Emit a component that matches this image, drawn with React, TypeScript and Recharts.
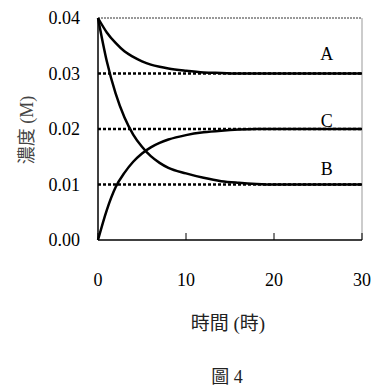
import * as React from "react";
import {
  LineChart,
  Line,
  XAxis,
  YAxis,
  ReferenceLine,
  ReferenceDot,
  Label,
} from "recharts";

// 時間 (時)
const times = [0, 1, 2, 3, 4, 5, 6, 7, 8, 10, 12, 14, 16, 18, 20, 22, 25, 30];
// 濃度 (M)
const seriesA = [0.04, 0.0374, 0.0355, 0.034, 0.033, 0.0322, 0.0316, 0.0312, 0.0309, 0.0305, 0.0302, 0.0301, 0.03, 0.03, 0.03, 0.03, 0.03, 0.03];
const seriesB = [0.04, 0.0322, 0.0264, 0.0221, 0.019, 0.0168, 0.0151, 0.0139, 0.013, 0.012, 0.0112, 0.0106, 0.0103, 0.0101, 0.01, 0.01, 0.01, 0.01];
const seriesC = [0, 0.0054, 0.0095, 0.0121, 0.0141, 0.0156, 0.0167, 0.0175, 0.0181, 0.0189, 0.0194, 0.0197, 0.0199, 0.02, 0.02, 0.02, 0.02, 0.02];

const xTicks = [0, 10, 20, 30];
const yTicks = [0, 0.01, 0.02, 0.03, 0.04];
const guideLevels = [0.01, 0.02, 0.03];

// curve labels: name, x, y
const curveLabels: [string, number, number][] = [
  ["A", 26, 0.0335],
  ["C", 26, 0.0216],
  ["B", 26, 0.0128],
];

const SERIF = '"Liberation Serif", "Times New Roman", serif';
const CJK = '"Liberation Serif", "Noto Sans CJK TC", serif';

const data = times.map((t, i) => ({
  t,
  A: seriesA[i],
  B: seriesB[i],
  C: seriesC[i],
}));

export default function App() {
  return (
    <div
      style={{
        position: "absolute",
        left: 0,
        top: 0,
        width: 381,
        height: 392,
        background: "#fff",
        fontFamily: SERIF,
      }}
    >
      <LineChart
        width={381}
        height={392}
        data={data}
        margin={{ top: 18, right: 19, bottom: 92, left: 0 }}
        style={{ fontFamily: SERIF }}
      >
        <XAxis
          dataKey="t"
          type="number"
          domain={[0, 30]}
          ticks={xTicks}
          interval={0}
          height={60}
          axisLine={{ stroke: "#000", strokeWidth: 1.5 }}
          tickLine={{ stroke: "#000", strokeWidth: 1 }}
          tickSize={-7}
          tickMargin={40}
          tick={{ fill: "#000", fontSize: 18, fontFamily: SERIF }}
        >
          <Label
            content={({ viewBox }: any) => (
              <text
                x={228}
                y={viewBox.y + 90}
                textAnchor="middle"
                fontSize={19}
                fontFamily={CJK}
                fill="#222"
              >
                時間 (時)
              </text>
            )}
          />
        </XAxis>
        <YAxis
          type="number"
          domain={[0, 0.04]}
          ticks={yTicks}
          interval={0}
          width={98}
          axisLine={{ stroke: "#000", strokeWidth: 1.5 }}
          tickLine={false}
          tickSize={0}
          tickMargin={18}
          tickFormatter={(v: number) => v.toFixed(2)}
          tick={{ fill: "#000", fontSize: 18, fontFamily: SERIF }}
        >
          <Label
            content={() => (
              <text
                x={0}
                y={0}
                transform="translate(33, 130) rotate(-90)"
                textAnchor="middle"
                fontSize={18}
                fontFamily={CJK}
                fill="#444"
              >
                濃度 (M)
              </text>
            )}
          />
        </YAxis>

        <ReferenceLine y={0.04} stroke="#333" strokeWidth={1} strokeDasharray="2 1" />
        <ReferenceLine x={30} stroke="#999" strokeWidth={1} />
        {guideLevels.map((v) => (
          <ReferenceLine key={v} y={v} stroke="#000" strokeWidth={2.5} strokeDasharray="3 2" />
        ))}

        <Line type="monotone" dataKey="A" stroke="#000" strokeWidth={2.5} dot={false} isAnimationActive={false} />
        <Line type="monotone" dataKey="B" stroke="#000" strokeWidth={2.5} dot={false} isAnimationActive={false} />
        <Line type="monotone" dataKey="C" stroke="#000" strokeWidth={2.5} dot={false} isAnimationActive={false} />

        {curveLabels.map(([name, x, y]) => (
          <ReferenceDot
            key={name}
            x={x}
            y={y}
            r={0}
            fill="none"
            stroke="none"
            label={{ value: name, position: "center", fontSize: 18, fontFamily: SERIF, fill: "#000" }}
          />
        ))}
      </LineChart>
      <div
        style={{
          position: "absolute",
          left: 0,
          width: 454,
          top: 362,
          textAlign: "center",
          fontSize: 18,
          fontFamily: CJK,
          color: "#222",
        }}
      >
        圖 4
      </div>
    </div>
  );
}
